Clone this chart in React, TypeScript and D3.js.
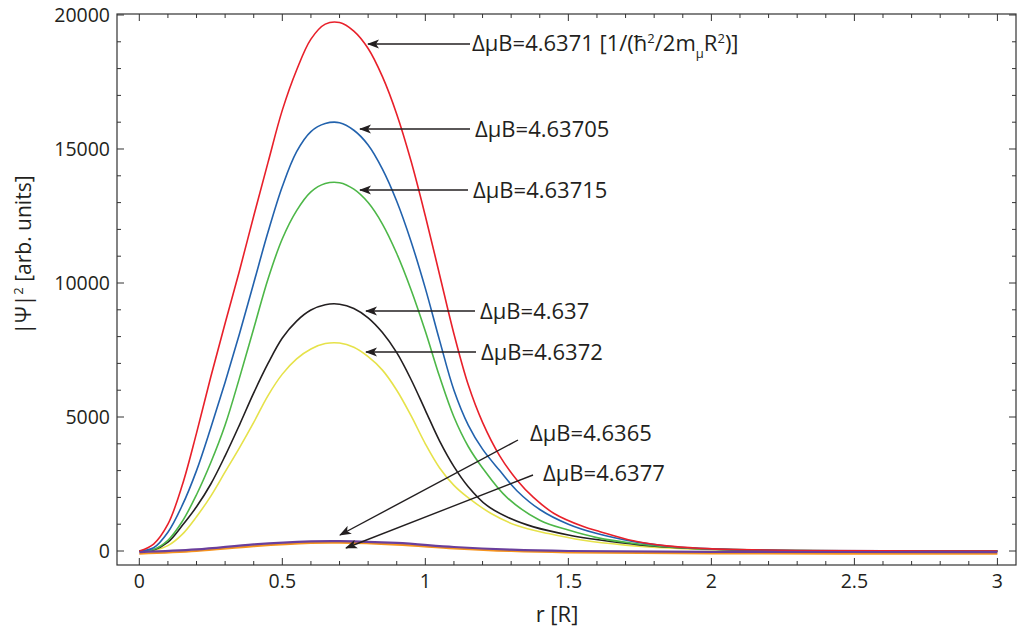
import React from "react";
import * as d3 from "d3";

type P = [number, number];

const seriesRed: P[] = [[0,0],[0.05,260],[0.1,1000],[0.15,2450],[0.2,4400],[0.25,6500],[0.3,8500],[0.35,10450],[0.4,12500],[0.45,14500],[0.5,16450],[0.55,17950],[0.6,19100],[0.65,19660],[0.7,19720],[0.75,19400],[0.8,18750],[0.85,17700],[0.9,16300],[0.95,14550],[1.0,12500],[1.05,10300],[1.1,8100],[1.15,6200],[1.2,4800],[1.26,3550],[1.32,2650],[1.378,2000],[1.45,1400],[1.55,920],[1.611,720],[1.727,380],[1.844,190],[1.961,100],[2.1,50],[2.3,20],[2.6,5],[3.0,0]];
const seriesBlue: P[] = [[0,0],[0.05,120],[0.1,700],[0.15,1700],[0.2,3000],[0.25,4600],[0.3,6300],[0.35,8100],[0.4,10000],[0.45,11900],[0.5,13600],[0.55,14900],[0.6,15650],[0.65,15950],[0.7,15980],[0.75,15700],[0.8,15150],[0.85,14250],[0.9,13050],[0.95,11550],[1.0,9800],[1.05,7850],[1.1,6000],[1.15,4700],[1.2,3800],[1.26,3000],[1.32,2250],[1.4,1550],[1.5,1000],[1.6,650],[1.73,350],[1.85,180],[2.0,80],[2.3,20],[3,0]];
const seriesGreen: P[] = [[0,0],[0.05,60],[0.1,400],[0.15,1100],[0.2,2100],[0.25,3300],[0.3,4700],[0.35,6450],[0.4,8300],[0.45,10150],[0.5,11650],[0.55,12700],[0.6,13400],[0.65,13710],[0.7,13740],[0.75,13500],[0.8,13000],[0.85,12200],[0.9,11100],[0.95,9750],[1.0,8200],[1.05,6500],[1.1,5000],[1.15,3900],[1.2,3100],[1.285,2000],[1.4,1150],[1.5,780],[1.6,500],[1.73,280],[1.85,150],[2.0,70],[2.3,15],[3,0]];
const seriesBlack: P[] = [[0,0],[0.05,40],[0.1,330],[0.15,950],[0.2,1650],[0.25,2500],[0.3,3550],[0.35,4700],[0.4,5900],[0.45,7000],[0.5,7950],[0.55,8580],[0.6,8990],[0.65,9190],[0.7,9210],[0.75,9050],[0.8,8700],[0.85,8150],[0.9,7400],[0.95,6400],[1.0,5250],[1.05,4100],[1.1,3150],[1.15,2400],[1.215,1700],[1.3,1200],[1.378,900],[1.5,600],[1.611,410],[1.75,230],[1.9,110],[2.1,40],[2.5,5],[3,0]];
const seriesYellow: P[] = [[0,0],[0.05,20],[0.1,200],[0.15,620],[0.2,1280],[0.25,2050],[0.3,2950],[0.35,3850],[0.4,4800],[0.45,5800],[0.5,6600],[0.55,7170],[0.6,7540],[0.65,7740],[0.7,7760],[0.75,7600],[0.8,7250],[0.85,6750],[0.9,6000],[0.95,5050],[1.0,4000],[1.05,3100],[1.1,2450],[1.145,2030],[1.23,1400],[1.32,950],[1.43,650],[1.552,400],[1.7,220],[1.85,110],[2.0,50],[2.4,5],[3,0]];
const seriesPurple: P[] = [[0,-40],[0.2,60],[0.4,250],[0.6,360],[0.7,370],[0.9,300],[1.1,150],[1.3,50],[1.5,0],[2,-30],[3,-40]];
const seriesOrange: P[] = [[0,-100],[0.2,0],[0.4,180],[0.6,300],[0.7,310],[0.9,240],[1.1,100],[1.3,0],[1.5,-50],[2,-90],[3,-100]];

const seriesList = [
  { data: seriesYellow, color: "#e6e24a", w: 1.6 },
  { data: seriesBlack, color: "#231f20", w: 1.6 },
  { data: seriesGreen, color: "#4db748", w: 1.6 },
  { data: seriesBlue, color: "#2262ad", w: 1.6 },
  { data: seriesRed, color: "#e8202a", w: 1.6 },
  { data: seriesOrange, color: "#f7941d", w: 2.2 },
  { data: seriesPurple, color: "#6a3f9c", w: 2.2 },
];

const xTickLabels = ["0", "0.5", "1", "1.5", "2", "2.5", "3"];
const yTickLabels = ["0", "5000", "10000", "15000", "20000"];

const labelTexts = ["4.63705", "4.63715", "4.637", "4.6372", "4.6365", "4.6377"];

const W = 1017, H = 632;
const L = 117, R = 1016, T = 14, B = 565;

export default function App() {
  const x = d3.scaleLinear().domain([-0.078, 3.065]).range([L, R]);
  const y = d3.scaleLinear().domain([-522, 20037]).range([B, T]);
  const line = d3.line<P>().x(d => x(d[0])).y(d => y(d[1])).curve(d3.curveCatmullRom.alpha(0.5));

  const xMinor = d3.range(0, 31).map(i => i / 10);
  const yMinor = d3.range(0, 21).map(i => i * 1000);
  const font = "'Open Sans', 'Noto Sans', sans-serif";
  const axisColor = "#333";

  const arrows = [
    { x1: 470, y1: 44, x2: 368, y2: 44 },
    { x1: 470, y1: 129, x2: 360, y2: 129 },
    { x1: 468, y1: 190, x2: 360, y2: 190 },
    { x1: 475, y1: 311, x2: 366, y2: 311 },
    { x1: 476, y1: 352, x2: 366, y2: 352 },
    { x1: 518, y1: 440, x2: 340, y2: 535 },
    { x1: 533, y1: 475, x2: 346, y2: 548 },
  ];
  const labelPos = [
    { x: 475, y: 137 },
    { x: 473, y: 198 },
    { x: 480, y: 319 },
    { x: 481, y: 360 },
    { x: 530, y: 441 },
    { x: 543, y: 481 },
  ];

  return (
    <svg width={W} height={H} style={{ position: "absolute", left: 0, top: 0, background: "#fff" }} fontFamily={font}>
      <defs>
        <marker id="ah" viewBox="0 0 12 10" refX="11" refY="5" markerWidth="12" markerHeight="10" markerUnits="userSpaceOnUse" orient="auto">
          <path d="M0,0.5 L12,5 L0,9.5 L3,5 Z" fill="#231f20" />
        </marker>
        <clipPath id="plot">
          <rect x={L} y={T} width={R - L} height={B - T} />
        </clipPath>
      </defs>
      <rect x={0} y={0} width={W} height={H} fill="#fff" />
      <g clipPath="url(#plot)">
        {seriesList.map((s, i) => (
          <path key={i} d={line(s.data) || ""} fill="none" stroke={s.color} strokeWidth={s.w} strokeLinejoin="round" />
        ))}
      </g>
      <rect x={L} y={T} width={R - L} height={B - T} fill="none" stroke={axisColor} strokeWidth={1.2} />
      {xMinor.map((v, i) => {
        const major = i % 5 === 0;
        const len = major ? 7 : 4;
        return (
          <g key={"xt" + i} stroke={axisColor} strokeWidth={1}>
            <line x1={x(v)} x2={x(v)} y1={B} y2={B - len} />
            <line x1={x(v)} x2={x(v)} y1={T} y2={T + len} />
          </g>
        );
      })}
      {yMinor.map((v, i) => {
        const major = i % 5 === 0;
        const len = major ? 7 : 4;
        return (
          <g key={"yt" + i} stroke={axisColor} strokeWidth={1}>
            <line x1={L} x2={L + len} y1={y(v)} y2={y(v)} />
            <line x1={R} x2={R - len} y1={y(v)} y2={y(v)} />
          </g>
        );
      })}
      {xTickLabels.map((t, i) => (
        <text key={"xl" + i} x={x(+t)} y={588} textAnchor="middle" fontSize={19.5} fill="#231f20">{t}</text>
      ))}
      {yTickLabels.map((t, i) => (
        <text key={"yl" + i} x={110} y={y(+t) + 7} textAnchor="end" fontSize={19.5} fill="#231f20">{t}</text>
      ))}
      <text x={557} y={622} textAnchor="middle" fontSize={22} fill="#231f20">r [R]</text>
      <text transform="translate(31,255) rotate(-90)" textAnchor="middle" fontSize={21} fill="#231f20">
        |Ψ|<tspan dy={-8} fontSize={13}>2</tspan><tspan dy={8}> [arb. units]</tspan>
      </text>
      {arrows.map((a, i) => (
        <line key={"ar" + i} x1={a.x1} y1={a.y1} x2={a.x2} y2={a.y2} stroke="#231f20" strokeWidth={1.4} markerEnd="url(#ah)" />
      ))}
      <text x={472} y={51} fontSize={22} fill="#231f20">
        ΔμB=4.6371 [1/(ħ<tspan dy={-8} fontSize={13}>2</tspan><tspan dy={8}>/2m</tspan><tspan dy={7} fontSize={13}>μ</tspan><tspan dy={-7}>R</tspan><tspan dy={-8} fontSize={13}>2</tspan><tspan dy={8}>)]</tspan>
      </text>
      {labelTexts.map((t, i) => (
        <text key={"lb" + i} x={labelPos[i].x} y={labelPos[i].y} fontSize={22} fill="#231f20">ΔμB={t}</text>
      ))}
    </svg>
  );
}
